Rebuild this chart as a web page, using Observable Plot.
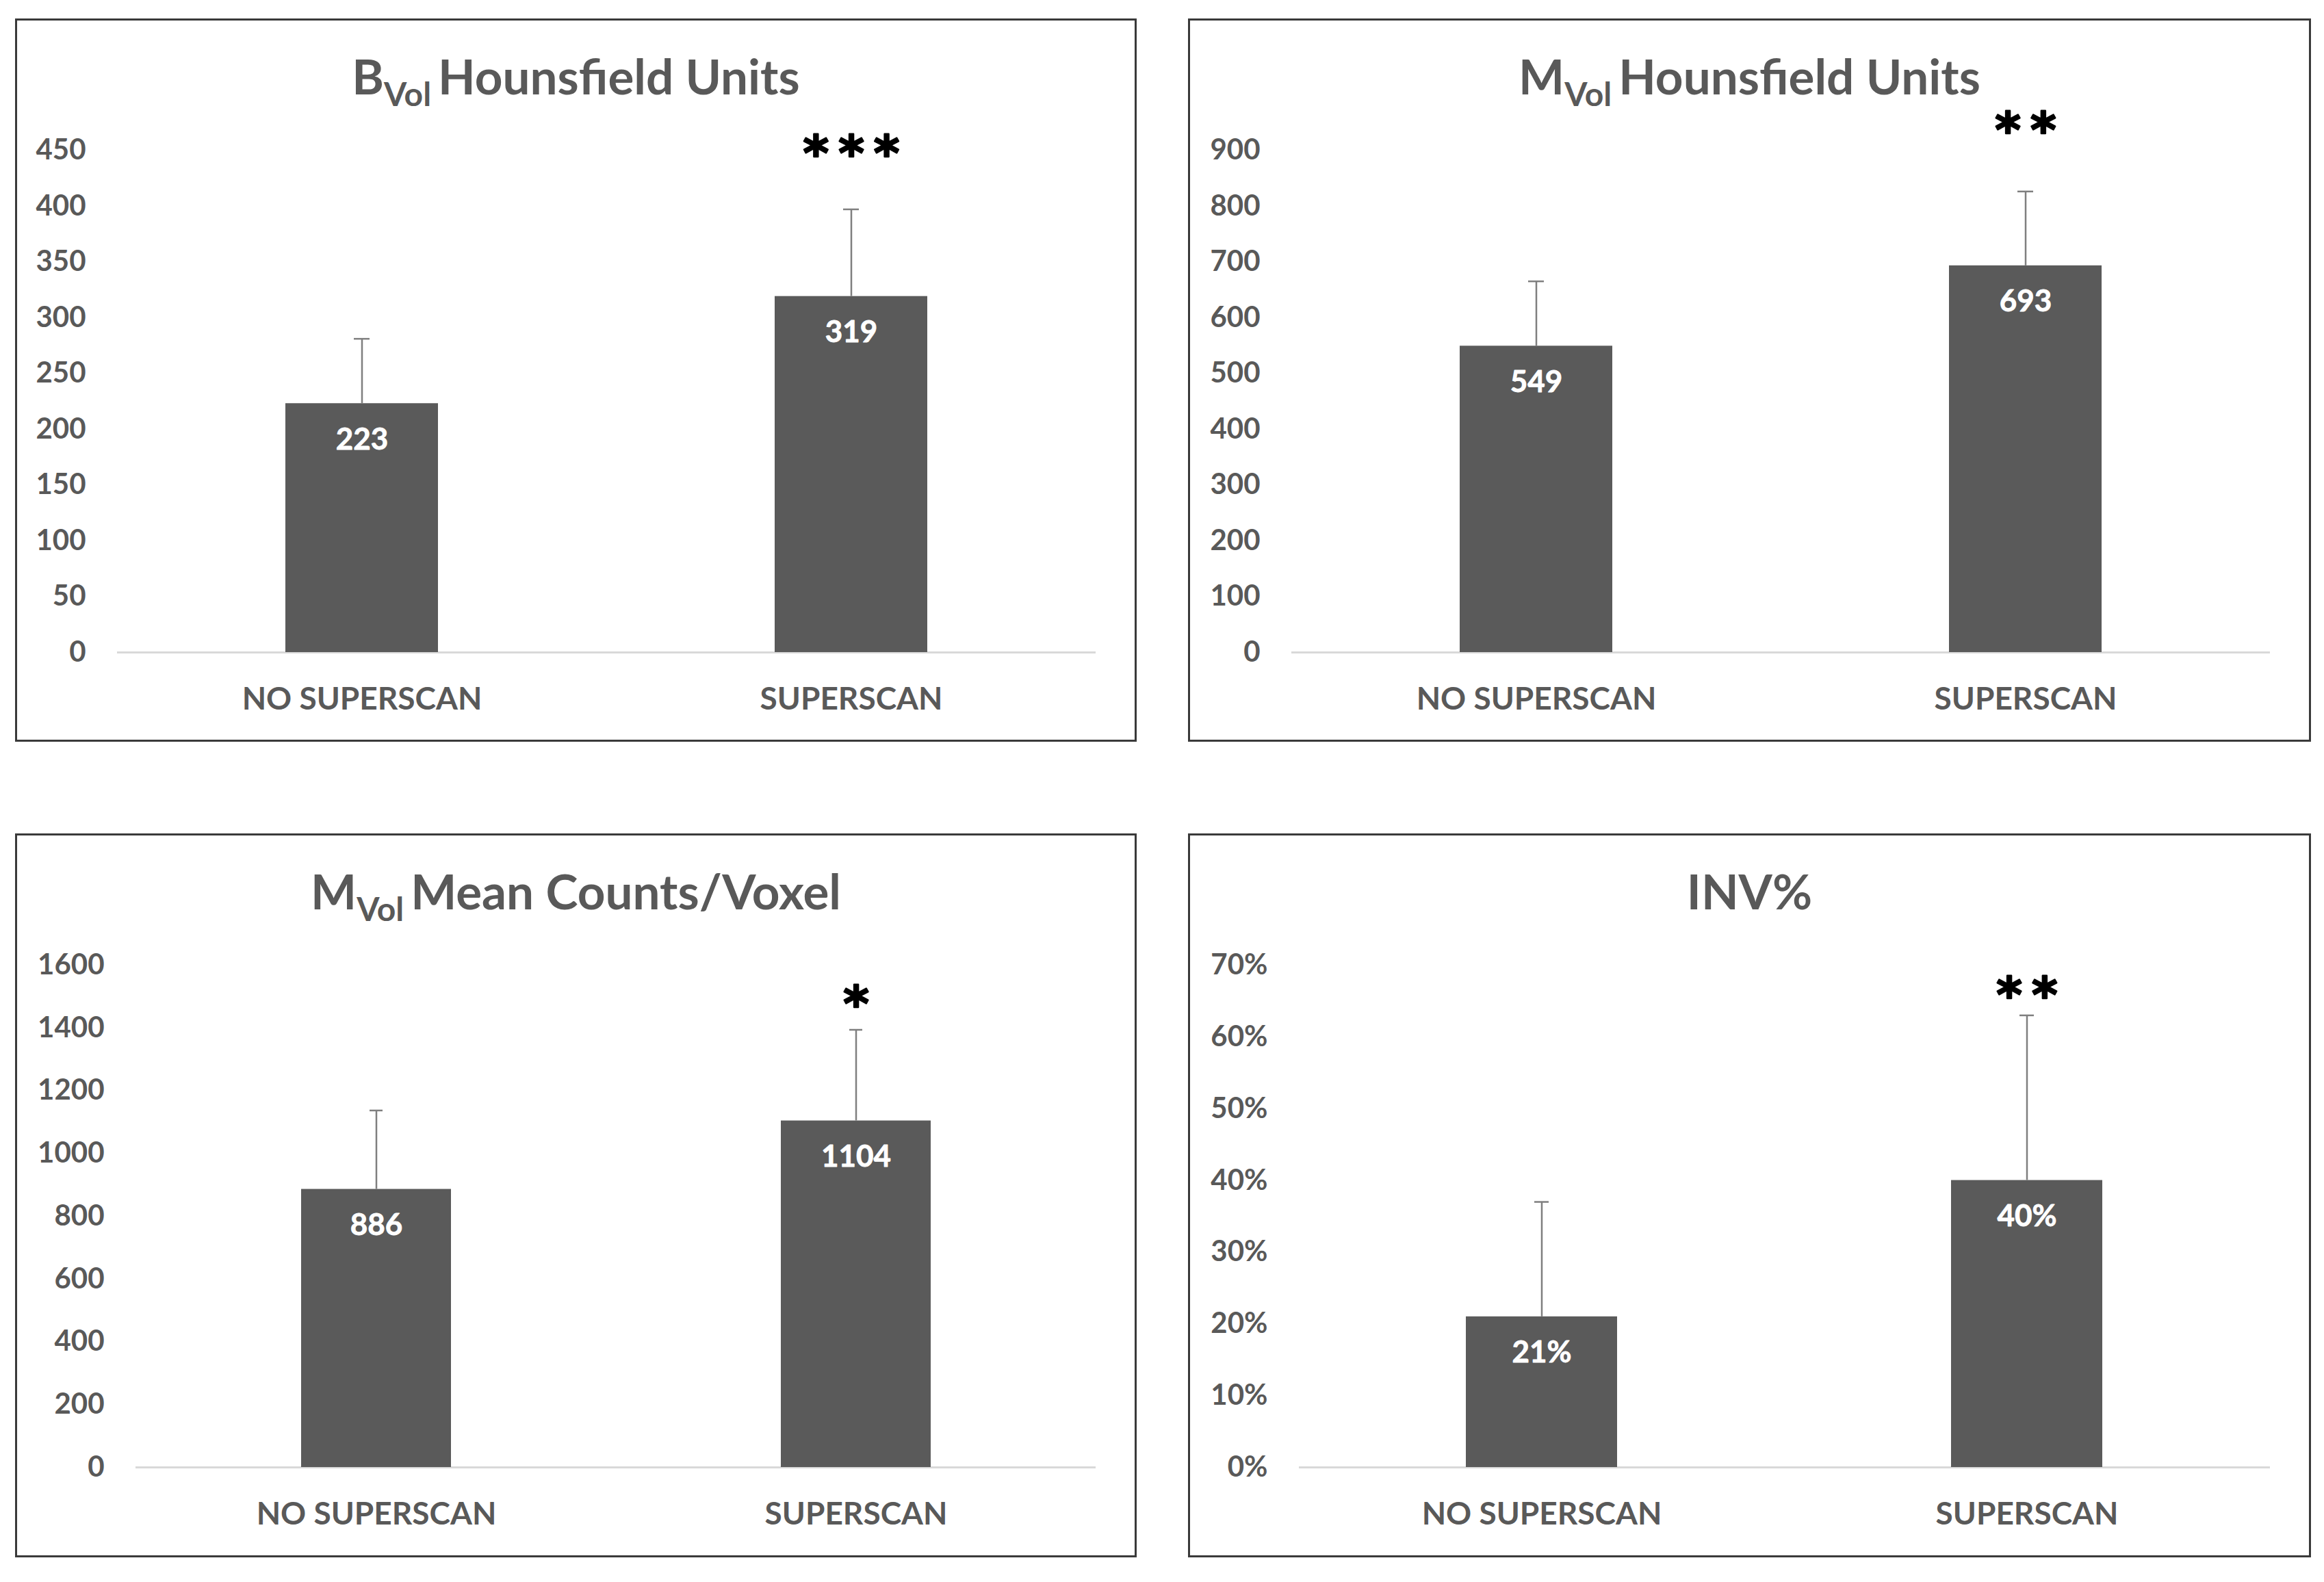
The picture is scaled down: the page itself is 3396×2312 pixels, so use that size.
<!DOCTYPE html>
<html>
<head>
<meta charset="utf-8">
<script src="https://cdn.jsdelivr.net/npm/d3@7"></script>
<script src="https://cdn.jsdelivr.net/npm/@observablehq/plot@0.6"></script>
<style>
  html, body { margin: 0; padding: 0; background: #fff; }
  body { width: 3396px; height: 2312px; position: relative; overflow: hidden; font-family: Lato, "Open Sans", sans-serif; }
  .panel { position: absolute; box-sizing: border-box; border: 3px solid #3a3a3a; background: #fff; }
  .title { position: absolute; left: 0; right: 0; text-align: center; color: #595959; font-weight: 700; font-size: 71px; line-height: 80px; white-space: nowrap; }
  .title sub { font-size: 48px; vertical-align: -17px; line-height: 0; margin-right: 10px; }
  .panel svg { position: absolute; left: 0; }
  .sig text { letter-spacing: 14px; }
</style>
</head>
<body>
<script>
// ---- data ----
const categories = ["NO SUPERSCAN", "SUPERSCAN"];
const titles = [
  "B<sub>Vol</sub>Hounsfield Units",
  "M<sub>Vol</sub>Hounsfield Units",
  "M<sub>Vol</sub>Mean Counts/Voxel",
  "INV%"
];
const bVolHU = [223, 319];
const bVolHUsd = [58, 78];
const mVolHU = [549, 693];
const mVolHUsd = [116, 133];
const mVolCounts = [886, 1104];
const mVolCountsSd = [251, 290];
const invPct = [0.21, 0.40];
const invPctSd = [0.16, 0.23];
const sigMarks = ["***", "**", "*", "**"];
const sigLevels = [456, 954, 1508, 0.672];
const yMaxes = [450, 900, 1600, 0.70];
const ySteps = [50, 100, 200, 0.10];

// ---- layout ----
const panels = [
  {left: 22, top: 27, w: 1639, h: 1057, ml: 146},
  {left: 1736, top: 27, w: 1641, h: 1057, ml: 148},
  {left: 22, top: 1218, w: 1639, h: 1058, ml: 173},
  {left: 1736, top: 1218, w: 1641, h: 1058, ml: 159}
];
const series = [
  [bVolHU, bVolHUsd], [mVolHU, mVolHUsd], [mVolCounts, mVolCountsSd], [invPct, invPctSd]
];
const fmtNum = d => String(Math.round(d));
const fmtPct = d => Math.round(d * 100) + "%";
const formats = [fmtNum, fmtNum, fmtNum, fmtPct];

panels.forEach((p, i) => {
  const div = document.createElement("div");
  div.className = "panel";
  Object.assign(div.style, {left: p.left + "px", top: p.top + "px", width: p.w + "px", height: p.h + "px"});
  const t = document.createElement("div");
  t.className = "title";
  t.style.top = "41px";
  t.innerHTML = titles[i];
  div.appendChild(t);

  const [vals, sds] = series[i];
  const rows = categories.map((c, k) => ({cat: c, value: vals[k], sd: sds[k]}));
  const fmt = formats[i];
  const svgTop = 137;
  const W = p.w - 6, H = p.h - 6 - svgTop;
  const ticks = d3.range(0, yMaxes[i] + ySteps[i] / 2, ySteps[i]);

  const chart = Plot.plot({
    width: W, height: H,
    marginLeft: p.ml, marginRight: 57, marginTop: 52, marginBottom: H - 786,
    style: {fontFamily: "Lato, 'Open Sans', sans-serif", fontWeight: 700, color: "#595959", background: "transparent", overflow: "visible"},
    x: {domain: categories, paddingInner: 0.688, paddingOuter: 0.344},
    y: {domain: [0, yMaxes[i]]},
    marks: [
      Plot.ruleY([0], {stroke: "#d9d9d9", strokeWidth: 3}),
      Plot.barY(rows, {x: "cat", y: "value", fill: "#5a5a5a"}),
      Plot.ruleX(rows, {x: "cat", y1: "value", y2: d => d.value + d.sd, stroke: "#7f7f7f", strokeWidth: 2.5}),
      Plot.tickY(rows, {x: "cat", y: d => d.value + d.sd, stroke: "#7f7f7f", strokeWidth: 2.5, insetLeft: 100, insetRight: 100}),
      Plot.text(rows, {x: "cat", y: "value", text: d => fmt(d.value), fill: "white", stroke: "white", strokeWidth: 0.8, fontSize: 44, fontWeight: 700, dy: 53}),
      Plot.text([sigMarks[i]], {x: () => categories[1], y: () => sigLevels[i], text: d => d, fill: "black", stroke: "black", strokeWidth: 2.5, fontSize: 72, fontWeight: 700, fontFamily: "DejaVu Sans", dy: 16, dx: 7, className: "sig"}),
      Plot.axisX({tickSize: 0, tickPadding: 51, fontSize: 46, label: null, fill: "#595959"}),
      Plot.axisY({ticks, tickFormat: fmt, tickSize: 0, tickPadding: 46, fontSize: 42, label: null, fill: "#595959"})
    ]
  });
  chart.style.top = svgTop + "px";
  div.appendChild(chart);
  document.body.appendChild(div);
});
</script>
</body>
</html>
